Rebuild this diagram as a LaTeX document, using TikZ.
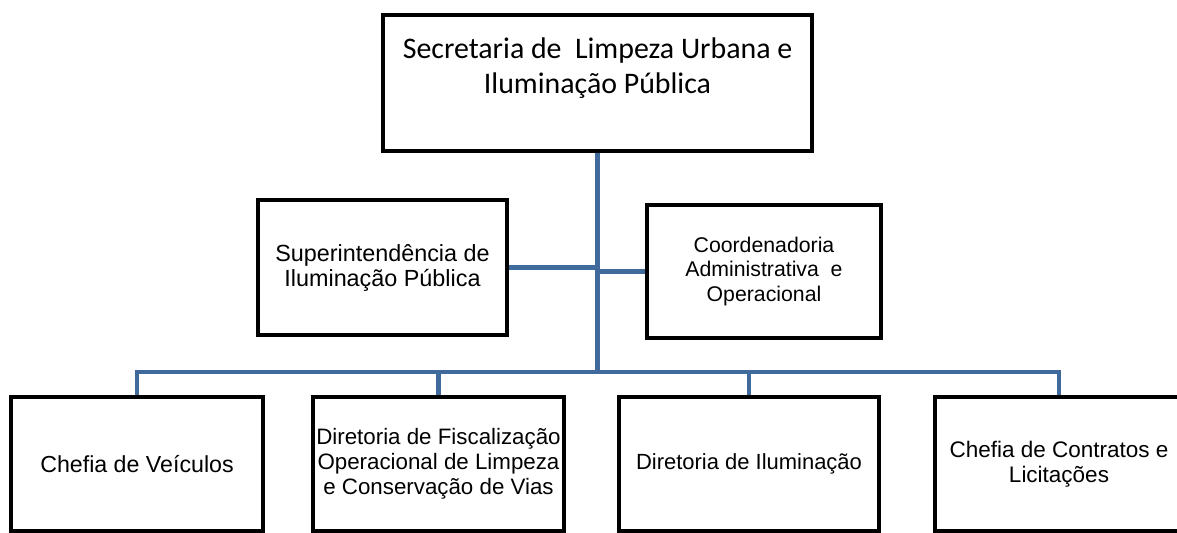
\documentclass[tikz,border=0pt]{standalone}
\usepackage{fontspec}
\setmainfont{Liberation Sans}
\newfontfamily\headfont{Carlito}
\usetikzlibrary{calc}
\definecolor{linkcolor}{HTML}{3F6A9B}
\tikzset{
  unit/.style={
    draw=black,
    fill=white,
    line width=2.3pt,
    inner xsep=2pt,
    inner ysep=2pt,
    align=center,
    font=\fontsize{#1}{14.2}\selectfont
  },
  unit/.default=12.5,
  link/.style={
    draw=linkcolor,
    line width=2.8pt
  }
}

\begin{document}
\begin{tikzpicture}
  \path[use as bounding box] (0,0) rectangle (23.54,-10.66);

  \node[unit, minimum width=8.58cm, minimum height=2.72cm,
        font=\headfont\fontsize{17}{19.9}\selectfont]
    (secretaria) at (11.95,-1.66)
    {Secretaria de~ Limpeza Urbana e\\Iluminação Pública\\~};

  \node[unit=13.3, minimum width=4.98cm, minimum height=2.70cm] (superint) at (7.65,-5.35)
    {Superintendência de\\Iluminação Pública};
  \node[unit=12.1, minimum width=4.68cm, minimum height=2.66cm] (coord) at (15.28,-5.43)
    {Coordenadoria\\Administrativa~ e\\Operacional};

  \node[unit=13.2, minimum width=5.04cm, minimum height=2.68cm] (veiculos) at (2.74,-9.28)
    {Chefia de Veículos};
  \node[unit=12.7, minimum width=5.02cm, minimum height=2.68cm] (fiscal) at (8.77,-9.28)
    {Diretoria de Fiscalização\\Operacional de Limpeza\\e Conservação de Vias};
  \node[unit=12.5, minimum width=5.20cm, minimum height=2.68cm] (ilum) at (14.98,-9.28)
    {Diretoria de Iluminação};
  \node[unit=12.8, minimum width=4.96cm, minimum height=2.68cm] (contratos) at (21.18,-9.28)
    {Chefia de Contratos e\\Licitações};

  \coordinate (bus) at (11.95,-7.44);

  \draw[link] (secretaria.south) -- (bus);
  \draw[link] (superint.east) -- (superint.east -| bus);
  \draw[link] (coord.west) -- (coord.west -| bus);
  \foreach \sub in {veiculos,fiscal,ilum,contratos}
    \draw[link] (bus) -| (\sub.north);
\end{tikzpicture}
\end{document}
